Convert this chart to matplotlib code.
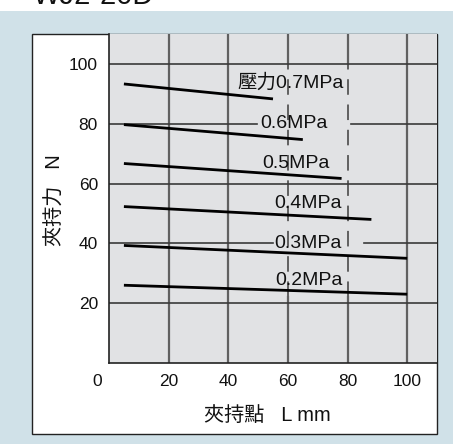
#!/usr/bin/env python3
"""Gripping force vs. gripping point chart (WJ2-20D)."""

import matplotlib
matplotlib.use('Agg')
import matplotlib.pyplot as plt
import matplotlib.transforms as mtransforms
from matplotlib.patches import Rectangle

# --- data ---
pressure_labels = ['壓力0.7MPa', '0.6MPa', '0.5MPa', '0.4MPa', '0.3MPa', '0.2MPa']
L_start = [5, 5, 5, 5, 5, 5]
L_end = [55, 65, 78, 88, 100, 100]
force_start = [93.3, 79.7, 66.7, 52.3, 39.3, 26.0]
force_end = [88.3, 74.7, 61.7, 48.0, 35.0, 23.0]
label_L = [43, 50.8, 51.4, 55.5, 55.5, 55.8]
label_force = [93.7, 80.0, 66.7, 53.3, 40.0, 27.7]

x_ticks = [0, 20, 40, 60, 80, 100]
y_ticks = [20, 40, 60, 80, 100]

FONT = ['Liberation Sans', 'Noto Sans CJK TC', 'DejaVu Sans']
plt.rcParams['font.family'] = FONT

BLUE_BG = '#d0e1e8'
PLOT_BG = '#e1e2e4'
GRID_V = '#606060'
GRID_H = '#3a3a3a'

W, H = 453, 444
fig = plt.figure(figsize=(W / 100, H / 100), dpi=100)
fig.patch.set_facecolor('white')

# light blue band and white panel
fig.patches.append(Rectangle((0, 0), 1, 1 - 11 / H, transform=fig.transFigure,
                             facecolor=BLUE_BG, edgecolor='none', zorder=-3))
fig.patches.append(Rectangle((32 / W, 1 - 434 / H), 405 / W, 400 / H,
                             transform=fig.transFigure, facecolor='white',
                             edgecolor='#222222', linewidth=1.0, zorder=-2))

fig.text(33 / W, 1 - 4 / H, 'WJ2-20D', fontsize=21, va='baseline', ha='left',
         color='#111111')

ax = fig.add_axes([109 / W, 1 - 363 / H, 328 / W, 329 / H])
ax.set_zorder(2)
ax.set_facecolor(PLOT_BG)
ax.set_xlim(0, 110)
ax.set_ylim(0, 110)

# grid: vertical lines (60 and 80 dashed in the curve region)
for xv in x_ticks[1:]:
    if xv in (60, 80):
        ax.plot([xv, xv], [0, 22], color=GRID_V, lw=1.6, zorder=1)
        ax.plot([xv, xv], [22, 100], color=GRID_V, lw=1.4, zorder=1,
                linestyle=(0, (8, 5)))
        ax.plot([xv, xv], [100, 110], color=GRID_V, lw=1.6, zorder=1)
    else:
        ax.plot([xv, xv], [0, 110], color=GRID_V, lw=1.6, zorder=1)

# grid: horizontal lines (80 and 40 broken around the labels)
h_gaps = {80: (49.7, 81.0), 40: (55.0, 85.4)}
for yv in y_ticks:
    if yv in h_gaps:
        g0, g1 = h_gaps[yv]
        ax.plot([0, g0], [yv, yv], color=GRID_H, lw=1.2, zorder=1)
        ax.plot([g1, 110], [yv, yv], color=GRID_H, lw=1.2, zorder=1)
    else:
        ax.plot([0, 110], [yv, yv], color=GRID_H, lw=1.2, zorder=1)

# force curves
for xs, xe, ys, ye in zip(L_start, L_end, force_start, force_end):
    ax.plot([xs, xe], [ys, ye], color='black', lw=2.0, solid_capstyle='butt',
            zorder=3)

for lab, lx, ly in zip(pressure_labels, label_L, label_force):
    ax.text(lx, ly, lab, fontsize=14, ha='left', va='center', color='#111111',
            zorder=4)

ax.set_xticks(x_ticks)
ax.set_yticks(y_ticks)
ax.tick_params(length=0, labelsize=12.5, colors='#111111')
ax.tick_params(axis='x', pad=8)
ax.tick_params(axis='y', pad=8)

# shift the corner "0" label to the left
fig.canvas.draw()
shift = mtransforms.ScaledTranslation(-12 / 100, 0, fig.dpi_scale_trans)
first = ax.get_xticklabels()[0]
first.set_transform(first.get_transform() + shift)

for side in ['top', 'right']:
    ax.spines[side].set_visible(False)
for side in ['left', 'bottom']:
    ax.spines[side].set_color('#222222')
    ax.spines[side].set_linewidth(1.2)

fig.text(267 / W, 1 - 415 / H, '夾持點   L mm', fontsize=14.5, ha='center',
         va='center', color='#111111')
fig.text(55 / W, 1 - 200 / H, '夾持力   N', fontsize=14.5, ha='center',
         va='center', rotation=90, color='#111111')

fig.savefig('out.png', dpi=100)
